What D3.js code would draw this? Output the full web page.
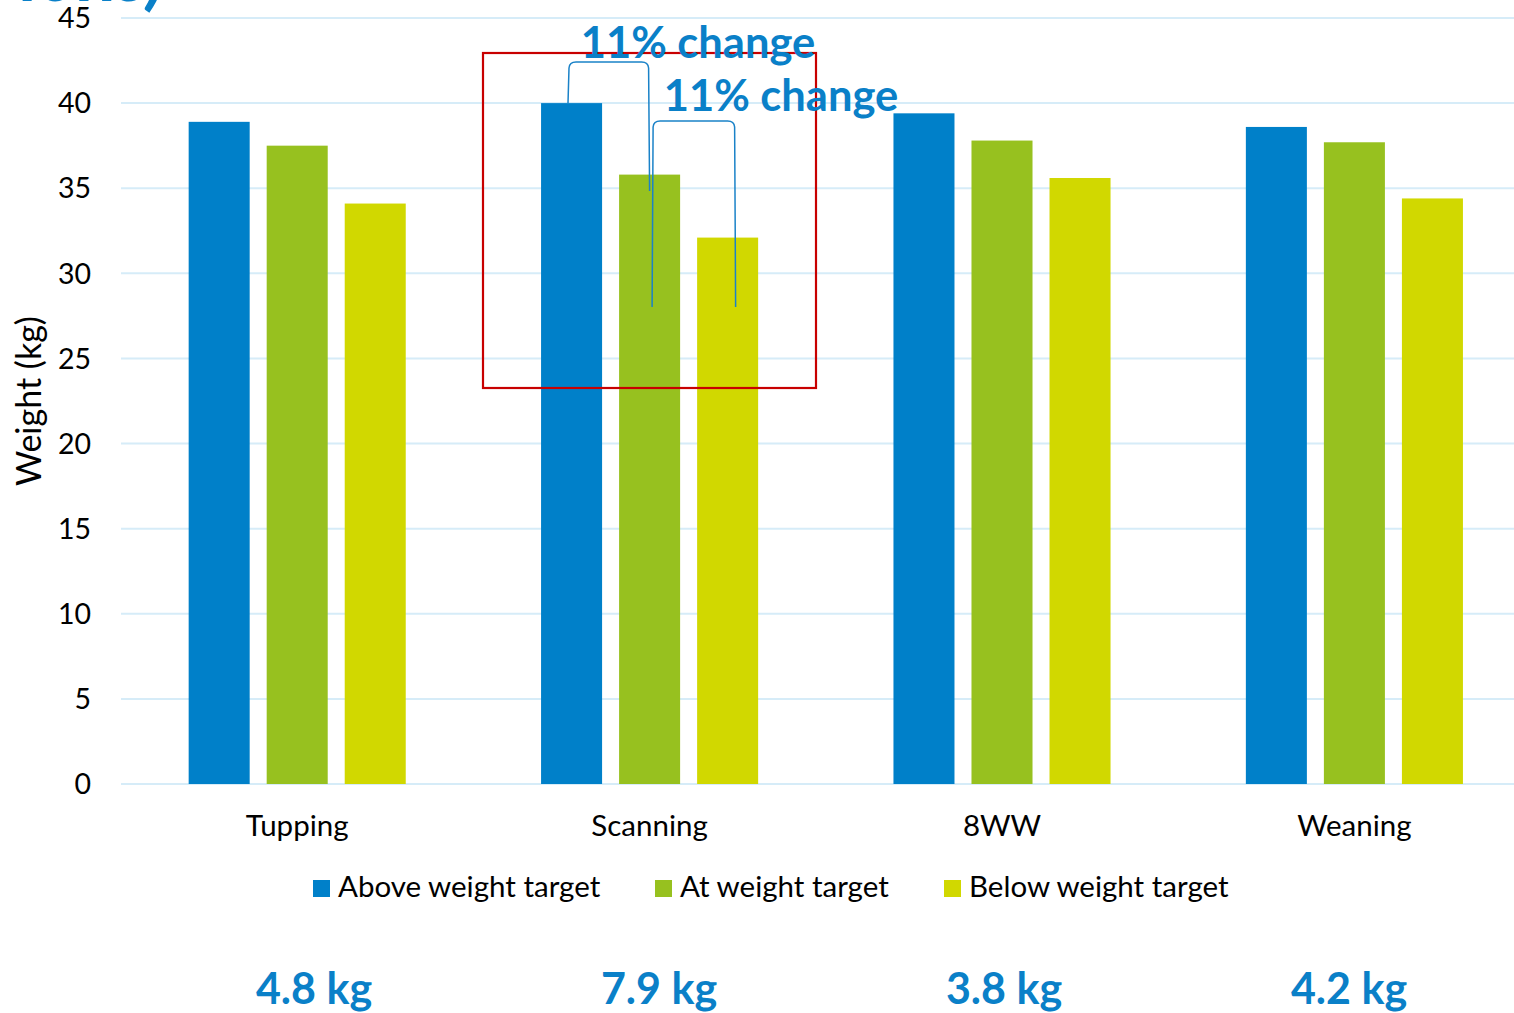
<!DOCTYPE html>
<html>
<head>
<meta charset="utf-8">
<script src="https://cdn.jsdelivr.net/npm/d3@7"></script>
<style>
  html, body { margin: 0; padding: 0; background: #fff; overflow: hidden; }
  svg { display: block; font-family: Lato, "Open Sans", sans-serif; }
</style>
</head>
<body>
<svg id="chart" width="1514" height="1013"></svg>
<script>
// Stages and weight groups
const stages = ["Tupping", "Scanning", "8WW", "Weaning"];
const groups = ["Above weight target", "At weight target", "Below weight target"];
const groupColors = ["#0080c9", "#97c11f", "#d1d800"];

// Mean lamb weight (kg) per group at each stage
const aboveTarget = [38.9, 40.0, 39.4, 38.6];
const atTarget    = [37.5, 35.8, 37.8, 37.7];
const belowTarget = [34.1, 32.1, 35.6, 34.4];

// Difference between above- and below-target groups
const gapLabels = ["4.8 kg", "7.9 kg", "3.8 kg", "4.2 kg"];

// Axis ticks
const yTicks = [0, 5, 10, 15, 20, 25, 30, 35, 40, 45];

const seriesValues = [aboveTarget, atTarget, belowTarget];

const svg = d3.select("#chart");
const blue = "#0a80c8";

const y = d3.scaleLinear().domain([0, 45]).range([784, 18]);
const x0 = d3.scaleBand().domain(stages).range([121, 1530.6])
  .paddingInner(0.384).paddingOuter(0.192);
const x1 = d3.scaleBand().domain(groups).range([0, x0.bandwidth()])
  .paddingInner(17 / 78).paddingOuter(0);

// Heading fragment running off the top edge
svg.append("text")
  .attr("x", 166).attr("y", 1)
  .attr("text-anchor", "end")
  .attr("font-size", 74).attr("font-weight", 700)
  .attr("font-style", "italic")
  .attr("fill", blue)
  .text("ions)");

// Gridlines
svg.append("g").selectAll("line").data(yTicks).join("line")
  .attr("x1", 121).attr("x2", 1514)
  .attr("y1", d => y(d)).attr("y2", d => y(d))
  .attr("stroke", "#d6ecf8").attr("stroke-width", 2);

// Y tick labels
svg.append("g").selectAll("text").data(yTicks).join("text")
  .attr("x", 91).attr("y", d => y(d))
  .attr("dy", "0.36em")
  .attr("text-anchor", "end")
  .attr("font-size", 28.5).attr("fill", "#000")
  .text(d => d);

// Y axis title
svg.append("text")
  .attr("transform", "translate(41,401) rotate(-90)")
  .attr("text-anchor", "middle")
  .attr("font-size", 34).attr("fill", "#000")
  .text("Weight (kg)");

// Bars
const rows = stages.map((s, i) => ({ stage: s, values: groups.map((g, j) => ({ group: g, idx: j, value: seriesValues[j][i] })) }));
const stageG = svg.append("g").selectAll("g").data(rows).join("g")
  .attr("transform", d => `translate(${x0(d.stage)},0)`);
stageG.selectAll("rect").data(d => d.values).join("rect")
  .attr("x", d => x1(d.group))
  .attr("width", x1.bandwidth())
  .attr("y", d => y(d.value))
  .attr("height", d => y(0) - y(d.value))
  .attr("fill", d => groupColors[d.idx]);

// Category labels
svg.append("g").selectAll("text").data(stages).join("text")
  .attr("x", d => x0(d) + x0.bandwidth() / 2)
  .attr("y", 836)
  .attr("text-anchor", "middle")
  .attr("font-size", 29.5).attr("fill", "#000")
  .text(d => d);

// Legend
const legendX = [313, 655, 944];
const legend = svg.append("g").selectAll("g").data(groups).join("g")
  .attr("transform", (d, i) => `translate(${legendX[i]},880)`);
legend.append("rect").attr("width", 17).attr("height", 17)
  .attr("fill", (d, i) => groupColors[i]);
legend.append("text").attr("x", 25).attr("y", 17)
  .attr("font-size", 29.5).attr("fill", "#000")
  .text(d => d);

// Highlight box around Scanning
svg.append("rect")
  .attr("x", 483).attr("y", 53)
  .attr("width", 333).attr("height", 335)
  .attr("fill", "none")
  .attr("stroke", "#c80000").attr("stroke-width", 2.2);

// Brackets linking bar tops at Scanning
const sIdx = stages.indexOf("Scanning");
const bx = g => x0("Scanning") + x1(g) + x1.bandwidth() / 2;
function bracket(xa, ya, xb, yb, top, r) {
  return `M${xa},${ya} L${xa + 1},${top + r} Q${xa + 1.5},${top} ${xa + r + 2},${top}` +
         ` L${xb - r - 2},${top} Q${xb - 1.5},${top} ${xb - 1},${top + r} L${xb},${yb}`;
}
const brackets = [
  { xa: 568, ya: y(aboveTarget[sIdx]), xb: bx(groups[1]), yb: y(aboveTarget[sIdx]) + 88, top: 62 },
  { xa: bx(groups[1]) + 2.5, ya: 307, xb: bx(groups[2]) + 8, yb: 307, top: 121 }
];
svg.append("g").selectAll("path").data(brackets).join("path")
  .attr("d", d => bracket(d.xa, d.ya, d.xb, d.yb, d.top, 6))
  .attr("fill", "none").attr("stroke", "#1a82c8").attr("stroke-width", 1.5);

// Change annotations
const changeNotes = [
  { text: "11% change", x: 698, y: 58 },
  { text: "11% change", x: 781, y: 111 }
];
svg.append("g").selectAll("text").data(changeNotes).join("text")
  .attr("x", d => d.x).attr("y", d => d.y)
  .attr("text-anchor", "middle")
  .attr("font-size", 43.5).attr("font-weight", 700)
  .attr("fill", blue)
  .text(d => d.text);

// Weight gap labels under each stage
const gapX = [314, 659, 1004, 1349];
svg.append("g").selectAll("text").data(gapLabels).join("text")
  .attr("x", (d, i) => gapX[i]).attr("y", 1004)
  .attr("text-anchor", "middle")
  .attr("font-size", 43).attr("font-weight", 700)
  .attr("fill", blue)
  .text(d => d);
</script>
</body>
</html>
